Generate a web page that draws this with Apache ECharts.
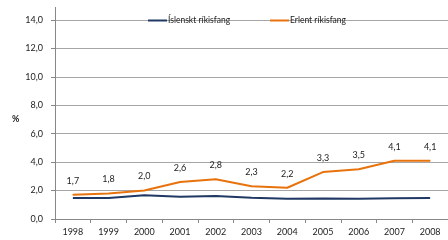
<!DOCTYPE html>
<html>
<head>
<meta charset="utf-8">
<script src="https://cdn.jsdelivr.net/npm/echarts@6/dist/echarts.min.js"></script>
<style>
  html, body { margin: 0; padding: 0; background: #fff; }
  #chart { width: 448px; height: 240px; }
</style>
</head>
<body>
<div id="chart"></div>
<script>
const years = ["1998", "1999", "2000", "2001", "2002", "2003", "2004", "2005", "2006", "2007", "2008"];
const islenskt = [1.48, 1.47, 1.67, 1.57, 1.62, 1.5, 1.43, 1.45, 1.43, 1.46, 1.48];
const erlent = [1.7, 1.8, 2.0, 2.6, 2.8, 2.3, 2.2, 3.3, 3.5, 4.1, 4.1];
const seriesNames = ["Íslenskt ríkisfang", "Erlent ríkisfang"];

const chart = echarts.init(document.getElementById("chart"));
const font = "Lato";
const fmt = (v) => v.toFixed(1).replace(".", ",");

chart.setOption({
  animation: false,
  textStyle: { fontFamily: font },
  legend: {
    data: seriesNames,
    top: 11,
    left: 143,
    icon: "rect",
    itemWidth: 19,
    itemHeight: 2,
    itemGap: 40,
    textStyle: { fontFamily: font, fontSize: 8.5, color: "#222", padding: [0, 0, 0, -4] },
  },
  grid: { left: 55, right: -3, top: 20, bottom: 21 },
  xAxis: {
    type: "category",
    data: years,
    axisLine: { lineStyle: { color: "#888" } },
    axisTick: { show: true, alignWithLabel: false, length: 4, lineStyle: { color: "#888" } },
    axisLabel: { fontFamily: font, fontSize: 9, color: "#222", margin: 9 },
  },
  yAxis: {
    type: "value",
    min: 0,
    max: 14,
    interval: 2,
    name: "%",
    nameLocation: "middle",
    nameRotate: 0,
    nameGap: 33,
    nameTextStyle: { fontFamily: font, fontSize: 9, color: "#222", fontWeight: "bold" },
    axisLine: { show: true, lineStyle: { color: "#888" } },
    axisTick: { show: true, length: 4, lineStyle: { color: "#888" } },
    axisLabel: { fontFamily: font, fontSize: 9, color: "#222", margin: 12, formatter: fmt },
    splitLine: { lineStyle: { color: "#a6a6a6", width: 1 } },
  },
  graphic: [
    { type: "line", shape: { x1: 55.5, y1: 7, x2: 55.5, y2: 20 }, style: { stroke: "#888", lineWidth: 1 } },
  ],
  series: [
    {
      name: seriesNames[0],
      type: "line",
      data: islenskt,
      symbol: "none",
      lineStyle: { color: "#1f3864", width: 2 },
      itemStyle: { color: "#1f3864" },
    },
    {
      name: seriesNames[1],
      type: "line",
      data: erlent,
      symbol: "circle",
      symbolSize: 1,
      lineStyle: { color: "#e8730c", width: 2 },
      itemStyle: { color: "#e8730c" },
      label: {
        show: true,
        position: "top",
        distance: 9,
        fontFamily: font,
        fontSize: 9,
        color: "#222",
        formatter: (p) => fmt(p.value),
      },
    },
  ],
});
</script>
</body>
</html>
